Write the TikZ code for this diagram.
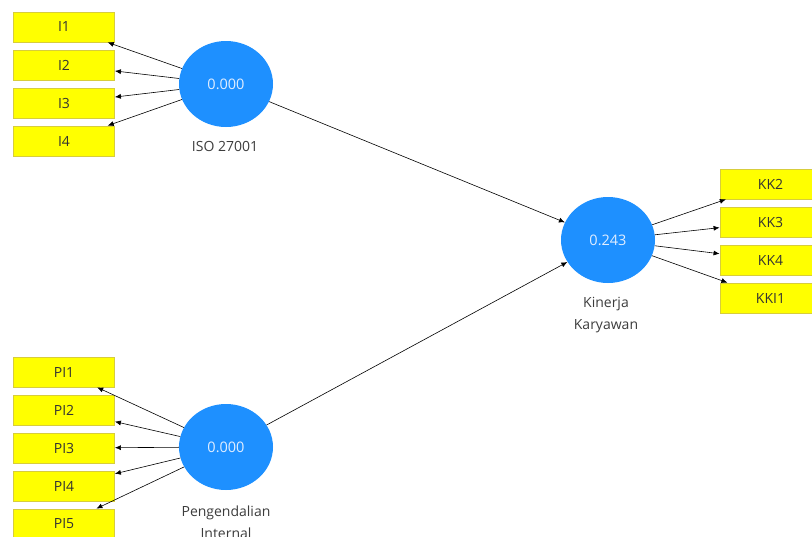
\documentclass[tikz,border=0pt]{standalone}
\usepackage{fontspec}
\setmainfont{Open Sans}
\usepackage{xcolor}
\usetikzlibrary{arrows.meta,positioning,shapes.geometric}

\definecolor{lvblue}{RGB}{30,144,255}
\definecolor{lvtext}{RGB}{225,238,255}
\definecolor{mvyellow}{RGB}{255,255,0}
\definecolor{mvedge}{RGB}{215,205,60}
\definecolor{labgray}{RGB}{60,60,60}

\begin{document}
\begin{tikzpicture}[
  x=1pt, y=-1pt,
  indicator/.style={draw=mvedge, fill=mvyellow, line width=0.8pt,
                    minimum width=101pt, minimum height=30pt, inner sep=0pt,
                    font=\fontsize{14}{16}\selectfont, text=black!80},
  latent/.style={ellipse, fill=lvblue, minimum width=94pt, minimum height=86pt,
                 inner sep=0pt, font=\fontsize{14.5}{16}\selectfont, text=lvtext},
  caption/.style={align=center, font=\fontsize{14}{22}\selectfont, text=labgray},
  arrow/.style={-{Latex[length=6pt,width=5pt]}, line width=0.6pt}
]
  \useasboundingbox (0,0) rectangle (812,536);

  % latent variables
  \node[latent] (iso) at (226,84) {0.000};
  \node[latent] (kk) at (608,240) {0.243};
  \node[latent] (pi) at (226,447) {0.000};
  \node[caption] (isolab) at (225,146) {ISO 27001};
  \node[caption] (kklab) at (606,315) {Kinerja\\Karyawan};
  \node[caption] (pilab) at (226,522) {Pengendalian\\Internal};

  % indicators of ISO 27001
  \node[indicator] (i1) at (64,27) {I1};
  \node[indicator] (i2) at (64,65) {I2};
  \node[indicator] (i3) at (64,103) {I3};
  \node[indicator] (i4) at (64,141) {I4};

  % indicators of Pengendalian Internal
  \node[indicator] (pi1) at (64,372) {PI1};
  \node[indicator] (pi2) at (64,410) {PI2};
  \node[indicator] (pi3) at (64,448) {PI3};
  \node[indicator] (pi4) at (64,486) {PI4};
  \node[indicator] (pi5) at (64,524) {PI5};

  % indicators of Kinerja Karyawan
  \node[indicator] (kk2) at (770.5,184) {KK2};
  \node[indicator] (kk3) at (770.5,222) {KK3};
  \node[indicator] (kk4) at (770.5,260) {KK4};
  \node[indicator] (kki1) at (770.5,298) {KKI1};

  % outer loadings
  \foreach \m in {i1,i2,i3,i4}
    \draw[arrow] (iso) -- (\m);
  \foreach \m in {pi1,pi2,pi3,pi4,pi5}
    \draw[arrow] (pi) -- (\m);
  \foreach \m in {kk2,kk3,kk4,kki1}
    \draw[arrow] (kk) -- (\m);

  % inner model
  \draw[arrow] (iso) -- (kk);
  \draw[arrow] (pi) -- (kk);
\end{tikzpicture}
\end{document}
